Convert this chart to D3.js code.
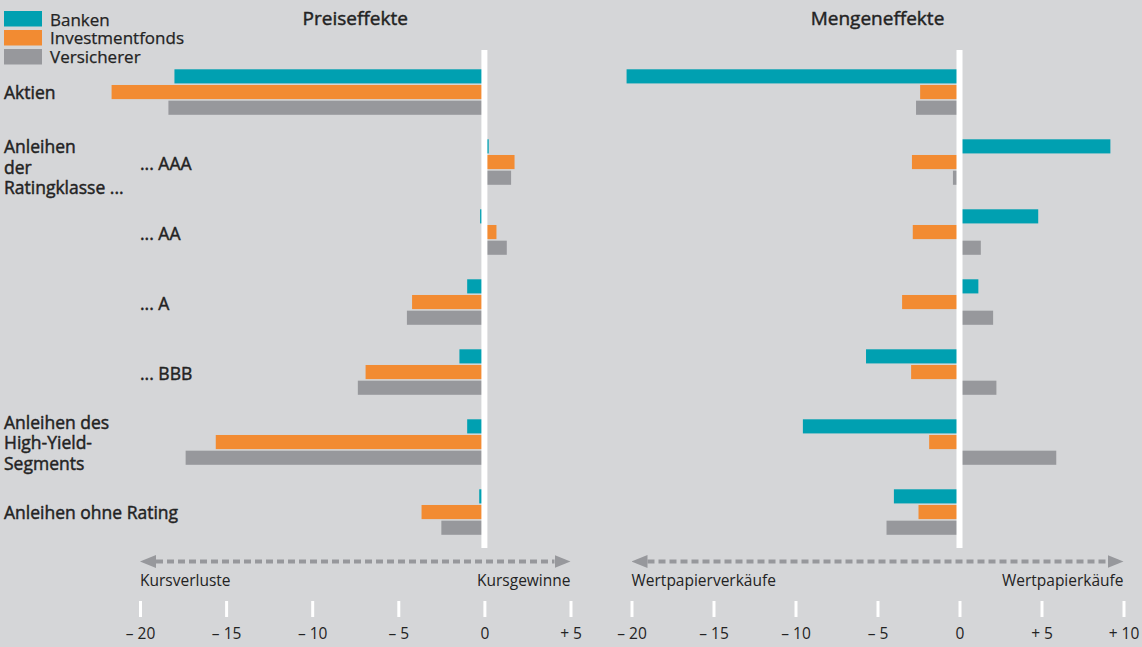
<!DOCTYPE html>
<html>
<head>
<meta charset="utf-8">
<script src="https://cdn.jsdelivr.net/npm/d3@7"></script>
<style>
  body { margin: 0; background: #d5d6d8; }
  svg { display: block; font-family: "Open Sans", sans-serif; }
</style>
</head>
<body>
<svg id="chart"></svg>
<script>
// data
var categories = ["Aktien", "AAA", "AA", "A", "BBB", "HighYield", "OhneRating"];
var series = ["Banken", "Investmentfonds", "Versicherer"];
var seriesColors = ["#00a0b1", "#f28b32", "#97989c"];

var preisBanken = [-18.0, 0.25, -0.25, -1.0, -1.45, -1.0, -0.3];
var preisFonds = [-21.65, 1.75, 0.7, -4.2, -6.9, -15.6, -3.65];
var preisVersicherer = [-18.35, 1.55, 1.3, -4.5, -7.35, -17.35, -2.5];

var mengeBanken = [-20.3, 9.2, 4.8, 1.15, -5.7, -9.55, -4.0];
var mengeFonds = [-2.4, -2.9, -2.85, -3.5, -2.95, -1.85, -2.5];
var mengeVersicherer = [-2.65, -0.4, 1.3, 2.05, 2.25, 5.9, -4.45];

var preisTicks = [-20, -15, -10, -5, 0, 5];
var mengeTicks = [-20, -15, -10, -5, 0, 5, 10];

var mainLabels = [
    {cat: "Aktien", lines: ["Aktien"], anchor: "center"},
    {cat: "AAA", lines: ["Anleihen", "der", "Ratingklasse ..."], anchor: "top"},
    {cat: "HighYield", lines: ["Anleihen des", "High-Yield-", "Segments"], anchor: "center"},
    {cat: "OhneRating", lines: ["Anleihen ohne Rating"], anchor: "center"}
];
var subLabels = {AAA: "... AAA", AA: "... AA", A: "... A", BBB: "... BBB"};

var options = {
    width: 1142,
    height: 647,
    groupTop: 69.3,
    groupStep: 70,
    groupBand: 45.5,
    zeroTop: 50,
    zeroBottom: 548,
    arrowY: 561.5,
    tickTop: 601,
    tickLength: 16,
    textColor: '#232323'
};

var svg = d3.select('#chart')
    .attr('width', options.width)
    .attr('height', options.height);

svg.append('rect')
    .attr('width', options.width)
    .attr('height', options.height)
    .style('fill', '#d5d6d8');

var y0 = d3.scaleBand()
    .domain(categories)
    .range([options.groupTop, options.groupTop + 6*options.groupStep + options.groupBand])
    .paddingInner((options.groupStep - options.groupBand)/options.groupStep)
    .paddingOuter(0);

var y1 = d3.scaleBand()
    .domain(series)
    .range([0, options.groupBand])
    .paddingInner(0.1);

var color = d3.scaleOrdinal().domain(series).range(seriesColors);

// medium-looking text: regular weight with a hairline stroke
function medium(sel) {
    return sel.style('fill', options.textColor)
        .style('stroke', options.textColor)
        .style('stroke-width', 0.45);
}

function makeRows(a, b, c) {
    var rows = [];
    categories.forEach(function(cat, i) {
        rows.push({cat: cat, s: series[0], v: a[i]});
        rows.push({cat: cat, s: series[1], v: b[i]});
        rows.push({cat: cat, s: series[2], v: c[i]});
    });
    return rows;
}

var panels = [
    {title: "Preiseffekte", domain: [-20, 5], range: [140, 570.5], ticks: preisTicks,
     rows: makeRows(preisBanken, preisFonds, preisVersicherer),
     leftText: "Kursverluste", rightText: "Kursgewinne"},
    {title: "Mengeneffekte", domain: [-20, 10], range: [631.5, 1123.5], ticks: mengeTicks,
     rows: makeRows(mengeBanken, mengeFonds, mengeVersicherer),
     leftText: "Wertpapierverkäufe", rightText: "Wertpapierkäufe"}
];

function tickFormat(d) {
    if (d < 0) return "\u2013 " + Math.abs(d);
    if (d > 0) return "+ " + d;
    return "0";
}

var defs = svg.append('defs');
defs.append('marker')
    .attr('id', 'arrowhead')
    .attr('viewBox', '0 0 16 13')
    .attr('refX', 0)
    .attr('refY', 6.5)
    .attr('markerUnits', 'userSpaceOnUse')
    .attr('markerWidth', 16)
    .attr('markerHeight', 13)
    .attr('orient', 'auto-start-reverse')
    .append('path')
    .attr('d', 'M0,0 L16,6.5 L0,13 Z')
    .style('fill', '#97989c');

panels.forEach(function(p) {
    var x = d3.scaleLinear().domain(p.domain).range(p.range);
    var g = svg.append('g').attr('class', 'panel');

    g.append('text')
        .attr('x', (p.range[0] + p.range[1])/2)
        .attr('y', 25)
        .style('text-anchor', 'middle')
        .style('font-size', '19px')
        .call(medium)
        .text(p.title);

    g.selectAll('.bar')
        .data(p.rows)
        .enter()
        .append('rect')
        .attr('class', 'bar')
        .attr('x', function(d){ return x(Math.min(0, d.v)); })
        .attr('width', function(d){ return Math.abs(x(d.v) - x(0)); })
        .attr('y', function(d){ return y0(d.cat) + y1(d.s); })
        .attr('height', y1.bandwidth())
        .style('fill', function(d){ return color(d.s); });

    // white zero line over the bars
    g.append('line')
        .attr('x1', x(0)).attr('x2', x(0))
        .attr('y1', options.zeroTop).attr('y2', options.zeroBottom)
        .style('stroke', '#ffffff')
        .style('stroke-width', 6);

    // dashed direction arrow
    g.append('line')
        .attr('x1', p.range[0] + 16).attr('x2', p.range[1] - 16)
        .attr('y1', options.arrowY).attr('y2', options.arrowY)
        .attr('marker-start', 'url(#arrowhead)')
        .attr('marker-end', 'url(#arrowhead)')
        .style('stroke', '#97989c')
        .style('stroke-width', 4)
        .style('stroke-dasharray', '7,4');

    g.append('text')
        .attr('x', p.range[0]).attr('y', 586)
        .style('font-size', '15.5px').style('fill', options.textColor)
        .text(p.leftText);
    g.append('text')
        .attr('x', p.range[1]).attr('y', 586)
        .style('text-anchor', 'end')
        .style('font-size', '15.5px').style('fill', options.textColor)
        .text(p.rightText);

    var axis = d3.axisBottom(x)
        .tickValues(p.ticks)
        .tickSize(options.tickLength)
        .tickPadding(11)
        .tickFormat(tickFormat);

    var ax = g.append('g')
        .attr('class', 'x axis')
        .attr('transform', 'translate(0,' + options.tickTop + ')')
        .call(axis);
    ax.select('.domain').remove();
    ax.selectAll('.tick line')
        .style('stroke', '#ffffff')
        .style('stroke-width', 3);
    ax.selectAll('.tick text')
        .style('font-family', '"Open Sans", sans-serif')
        .style('font-size', '15.5px')
        .style('fill', options.textColor);
});

// category labels
var labelG = svg.append('g').attr('class', 'labels');
mainLabels.forEach(function(l) {
    var top = y0(l.cat);
    var mid = top + options.groupBand/2;
    var lineH = 20.5;
    var first;
    if (l.anchor === 'top') first = top + 14;
    else first = mid + 7 - (l.lines.length - 1)*lineH/2;
    var t = labelG.append('text')
        .style('font-size', '17.5px')
        .call(medium);
    l.lines.forEach(function(line, i) {
        t.append('tspan').attr('x', 4).attr('y', first + i*lineH).text(line);
    });
});
Object.keys(subLabels).forEach(function(cat) {
    labelG.append('text')
        .attr('x', 140)
        .attr('y', y0(cat) + options.groupBand/2 + 8)
        .style('font-size', '17.5px')
        .call(medium)
        .text(subLabels[cat]);
});

// legend
var legend = svg.append('g').attr('class', 'legend');
series.forEach(function(s, i) {
    legend.append('rect')
        .attr('x', 4).attr('y', 11 + i*19)
        .attr('width', 38).attr('height', 15.5)
        .style('fill', color(s));
    legend.append('text')
        .attr('x', 50).attr('y', 25.5 + i*18.8)
        .style('font-size', '17px')
        .call(medium)
        .style('stroke-width', 0.25)
        .text(s);
});
</script>
</body>
</html>
